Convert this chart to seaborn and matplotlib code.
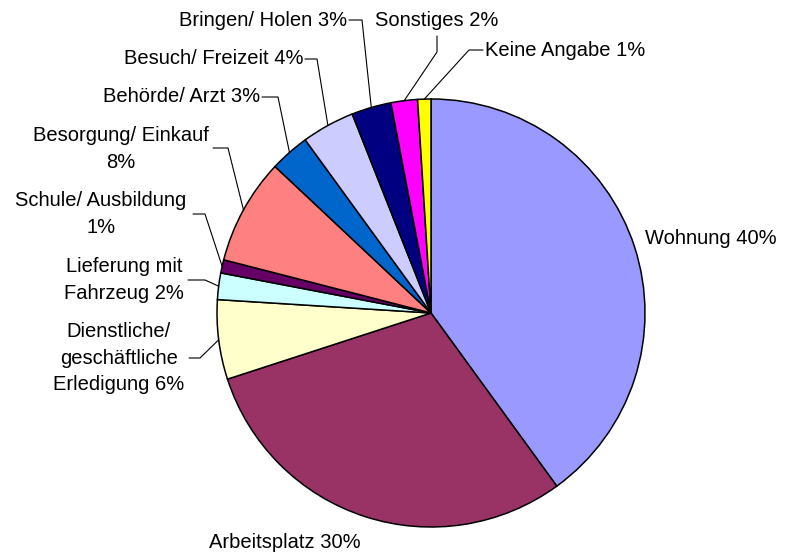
"""Kreisdiagramm: Wegezwecke (Anteile in %)."""

import matplotlib
matplotlib.use("Agg")
import matplotlib.pyplot as plt
import numpy as np
import seaborn as sns

LABELS = [
    "Wohnung 40%",
    "Arbeitsplatz 30%",
    "Dienstliche/\ngeschäftliche\nErledigung 6%",
    "Lieferung mit\nFahrzeug 2%",
    "Schule/ Ausbildung\n1%",
    "Besorgung/ Einkauf\n8%",
    "Behörde/ Arzt 3%",
    "Besuch/ Freizeit 4%",
    "Bringen/ Holen 3%",
    "Sonstiges 2%",
    "Keine Angabe 1%",
]
SHARES = [40, 30, 6, 2, 1, 8, 3, 4, 3, 2, 1]
COLORS = [
    "#9999FF", "#993366", "#FFFFCC", "#CCFFFF", "#660066", "#FF8080",
    "#0066CC", "#CCCCFF", "#000080", "#FF00FF", "#FFFF00",
]

W, H = 785, 554
CENTER = (431, 313)   # pixel, von oben gemessen
RADIUS = 214

# Beschriftung: (x, y, ha, Knick-Punkte der Führungslinie in Pixeln)
LABEL_LAYOUT = [
    (645, 238, "left", None),
    (209, 543, "left", None),
    (119, 358, "center", [(189, 358), (200, 358)]),
    (124, 280, "center", [(188, 280), (205, 280)]),
    (101, 214, "center", [(193, 214), (205, 214)]),
    (121, 149, "center", [(213, 148), (228, 148)]),
    (260, 97, "right", [(262, 97), (278, 97)]),
    (303, 59, "right", [(305, 59), (317, 59)]),
    (347, 20, "right", [(349, 20), (362, 20)]),
    (437, 21, "center", [(437, 36), (437, 52)]),
    (485, 50, "left", [(483, 50), (469, 50)]),
]


def flip(y):
    return H - y


def main() -> None:
    sns.set_theme(style="white")
    plt.rcParams["font.family"] = ["Liberation Sans", "DejaVu Sans"]

    fig = plt.figure(figsize=(W / 100, H / 100), dpi=100)
    ax = fig.add_axes([0, 0, 1, 1])

    wedges, _ = ax.pie(
        SHARES,
        colors=COLORS,
        startangle=90,
        counterclock=False,
        center=(CENTER[0], flip(CENTER[1])),
        radius=RADIUS,
        wedgeprops={"edgecolor": "black", "linewidth": 1.1},
        frame=True,
    )
    ax.set_xlim(0, W)
    ax.set_ylim(0, H)
    ax.set_aspect("equal")
    ax.axis("off")

    for wedge, label, (tx, ty, ha, knick) in zip(wedges, LABELS, LABEL_LAYOUT):
        ax.text(tx, flip(ty), label, ha=ha, va="center", multialignment="center",
                fontsize=14.5, color="black", linespacing=1.5)
        if knick is None:
            continue
        mid = np.deg2rad((wedge.theta1 + wedge.theta2) / 2)
        ex = CENTER[0] + RADIUS * np.cos(mid)
        ey = flip(CENTER[1]) + RADIUS * np.sin(mid)
        xs = [p[0] for p in knick] + [ex]
        ys = [flip(p[1]) for p in knick] + [ey]
        ax.plot(xs, ys, color="black", linewidth=0.8)

    fig.savefig("out.png", dpi=100)
    plt.close(fig)


if __name__ == "__main__":
    main()
